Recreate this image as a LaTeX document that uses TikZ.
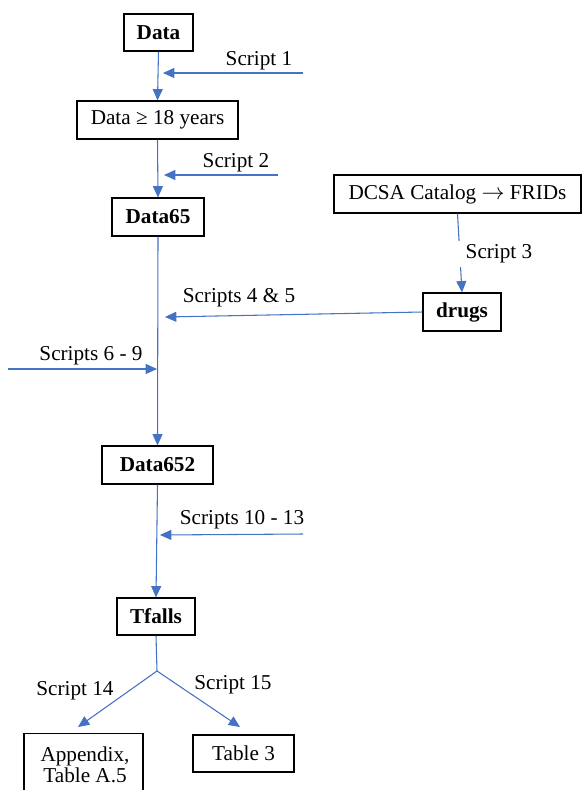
\documentclass[tikz,border=0pt]{standalone}
\usepackage{fontspec}
\setmainfont{Liberation Serif}
\usetikzlibrary{arrows.meta}
\definecolor{flowblue}{HTML}{4472C4}
\begin{document}
\begin{tikzpicture}[x=0.75pt,y=-0.75pt,
  font=\fontsize{15.9}{16}\selectfont,
  box/.style={draw=black,line width=0.9pt,rectangle,inner sep=0pt,minimum height=28.5pt,align=center},
  flow/.style={draw=flowblue,line width=0.8pt},
  flowarrow/.style={flow,-{Triangle[length=8.5pt,width=7.5pt]}},
  lbl/.style={inner sep=0pt,anchor=center}]
\useasboundingbox (0,0) rectangle (582,790);

% data boxes
\node[box,minimum width=51.75pt,minimum height=27.75pt] (data) at (158.5,32.5) {\textbf{Data}};
\node[box,minimum width=120.75pt] (d18) at (157.5,120) {Data ≥ 18 years};
\node[box,minimum width=69pt] (d65) at (158,217) {\textbf{Data65}};
\node[box,minimum width=185.25pt] (dcsa) at (457.5,194) {DCSA Catalog $\rightarrow$ FRIDs};
\node[box,minimum width=58.5pt] (drugs) at (462,312) {\textbf{drugs}};
\node[box,minimum width=83.25pt] (d652) at (157.5,465) {\textbf{Data652}};
\node[box,minimum width=58.5pt,minimum height=27.75pt] (tfalls) at (156,616.5) {\textbf{Tfalls}};
\node[box,minimum width=89.25pt,minimum height=48.75pt,anchor=north] (app) at (83.5,733) {};
\node[align=center,inner sep=0pt] (apptxt) at (85,765) {Appendix,\\Table A.5};
\node[box,minimum width=75.75pt,minimum height=27.75pt] (tab3) at (243.5,753.5) {Table 3};

% free ends of the side inputs
\coordinate (s1a) at (303,73);   \coordinate (s1b) at (163,73);
\coordinate (s2a) at (278,175);  \coordinate (s2b) at (164,175);
\coordinate (s45b) at (165,317);
\coordinate (s69a) at (8,369);   \coordinate (s69b) at (157,369);
\coordinate (s1013a) at (303,534); \coordinate (s1013b) at (160,535);
\coordinate (fork) at (157,671);
\coordinate (appin) at (78,727);
\coordinate (tabin) at (240,727);

% main chain
\draw[flowarrow] (data.south) -- (d18.north);
\draw[flowarrow] (d18.south) -- (d65.north);
\draw[flowarrow] (d65.south) -- (d652.north);
\draw[flowarrow] (d652.south) -- (tfalls.north);
\draw[flow] (tfalls.south) -- (fork);
\draw[flowarrow] (fork) -- (appin);
\draw[flowarrow] (fork) -- (tabin);

% side inputs
\draw[flowarrow] (s1a) -- (s1b);
\draw[flowarrow] (s2a) -- (s2b);
\draw[flowarrow] (dcsa.south) -- (drugs.north);
\draw[flowarrow] (drugs.west) -- (s45b);
\draw[flowarrow] (s69a) -- (s69b);
\draw[flowarrow] (s1013a) -- (s1013b);

% labels
\node[lbl] (l1) at (259,61) {Script 1};
\node[lbl] (l2) at (236,163) {Script 2};
\node[fill=white,inner xsep=7pt,inner ysep=0pt,minimum height=20pt] (l3) at (499,254) {Script 3};
\node[lbl] (l45) at (239,298) {Scripts 4 \& 5};
\node[lbl] (l69) at (91,356) {Scripts 6 - 9};
\node[lbl] (l1013) at (242,520) {Scripts 10 - 13};
\node[lbl] (l14) at (75,691) {Script 14};
\node[lbl] (l15) at (233,685) {Script 15};
\end{tikzpicture}
\end{document}
